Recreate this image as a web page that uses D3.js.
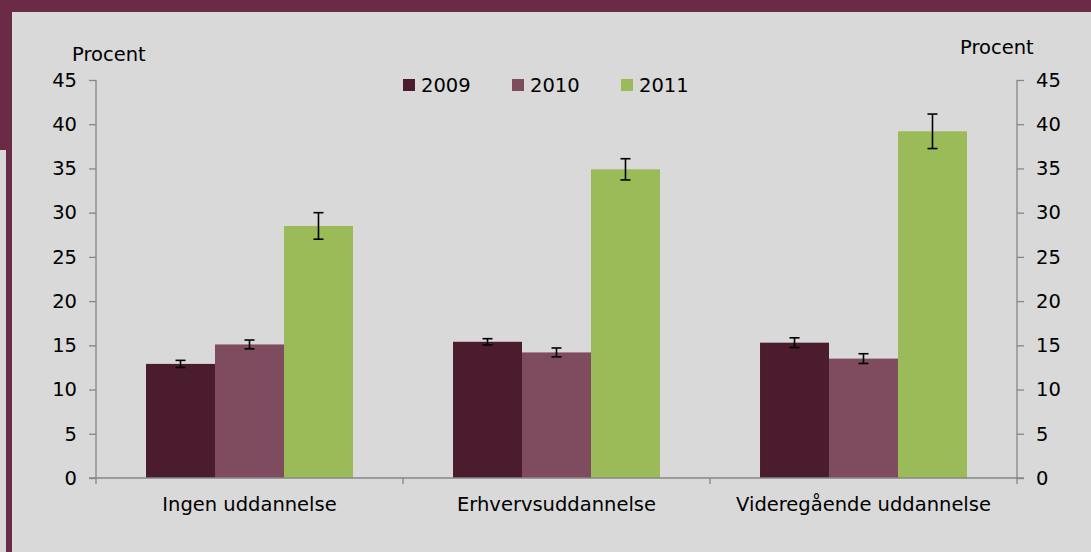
<!DOCTYPE html>
<html>
<head>
<meta charset="utf-8">
<script src="https://cdn.jsdelivr.net/npm/d3@7"></script>
<style>
  body { margin: 0; background: #d9d9d9; }
  svg { display: block; }
  text { font-family: "DejaVu Sans", Verdana, sans-serif; fill: #000; }
</style>
</head>
<body>
<svg width="1091" height="552"></svg>
<script>
var categories = ['Ingen uddannelse', 'Erhvervsuddannelse', 'Videregående uddannelse'];
var years = ['2009', '2010', '2011'];
var values2009 = [12.9, 15.4, 15.3];
var values2010 = [15.1, 14.2, 13.5];
var values2011 = [28.5, 34.9, 39.2];
var err2009 = [0.4, 0.35, 0.55];
var err2010 = [0.5, 0.5, 0.55];
var err2011 = [1.5, 1.2, 1.95];
var yTicks = [0, 5, 10, 15, 20, 25, 30, 35, 40, 45];
var colors = ['#4a1c2e', '#7f4b5f', '#9bbb59'];

var svg = d3.select('svg');
var frame = '#6b2b47';
var axisColor = '#868686';
var fs = 19.5;

// frame
svg.append('rect').attr('x', 0).attr('y', 0).attr('width', 1091).attr('height', 552).attr('fill', '#d9d9d9');
svg.append('rect').attr('x', 0).attr('y', 0).attr('width', 1091).attr('height', 12).attr('fill', frame);
svg.append('rect').attr('x', 6).attr('y', 0).attr('width', 6).attr('height', 552).attr('fill', frame);
svg.append('rect').attr('x', 0).attr('y', 0).attr('width', 6).attr('height', 150).attr('fill', frame);

var plotLeft = 96, plotRight = 1017, plotTop = 80, plotBottom = 478;

var x0 = d3.scaleBand().domain(categories).range([plotLeft, plotRight]).padding(0);
var x1 = d3.scaleBand().domain(years).range([0, x0.bandwidth()]).paddingInner(0).paddingOuter(0.725);
var y = d3.scaleLinear().domain([0, 45]).range([plotBottom, plotTop]);

var rows = categories.map(function(c, i) {
  return {
    cat: c,
    bars: [
      { year: years[0], v: values2009[i], e: err2009[i] },
      { year: years[1], v: values2010[i], e: err2010[i] },
      { year: years[2], v: values2011[i], e: err2011[i] }
    ]
  };
});

// bars
var groups = svg.selectAll('g.grp').data(rows).enter().append('g')
  .attr('class', 'grp')
  .attr('transform', function(d) { return 'translate(' + x0(d.cat) + ',0)'; });

groups.selectAll('rect').data(function(d) { return d.bars; }).enter().append('rect')
  .attr('x', function(d) { return x1(d.year); })
  .attr('y', function(d) { return y(d.v); })
  .attr('width', x1.bandwidth())
  .attr('height', function(d) { return y(0) - y(d.v); })
  .attr('fill', function(d, i) { return colors[i]; });

// error bars
var eb = groups.selectAll('g.err').data(function(d) { return d.bars; }).enter().append('g')
  .attr('class', 'err')
  .attr('stroke', '#000')
  .attr('stroke-width', 1.6);
function cx(d) { return x1(d.year) + x1.bandwidth() / 2; }
eb.append('line')
  .attr('x1', cx).attr('x2', cx)
  .attr('y1', function(d) { return y(d.v + d.e); })
  .attr('y2', function(d) { return y(d.v - d.e); });
eb.append('line')
  .attr('x1', function(d) { return cx(d) - 5; })
  .attr('x2', function(d) { return cx(d) + 5; })
  .attr('y1', function(d) { return y(d.v + d.e); })
  .attr('y2', function(d) { return y(d.v + d.e); });
eb.append('line')
  .attr('x1', function(d) { return cx(d) - 5; })
  .attr('x2', function(d) { return cx(d) + 5; })
  .attr('y1', function(d) { return y(d.v - d.e); })
  .attr('y2', function(d) { return y(d.v - d.e); });

// axes
var yAxisL = d3.axisLeft(y).tickValues(yTicks).tickSize(7).tickPadding(12);
var yAxisR = d3.axisRight(y).tickValues(yTicks).tickSize(7).tickPadding(12);

function styleAxis(g) {
  g.select('.domain').remove();
  g.selectAll('.tick line').attr('stroke', axisColor).attr('stroke-width', 1.3);
  g.selectAll('.tick text').attr('font-size', fs).attr('font-family', '"DejaVu Sans", Verdana, sans-serif').attr('fill', '#000');
}

svg.append('g').attr('transform', 'translate(' + plotLeft + ',0)').call(yAxisL).call(styleAxis);
svg.append('g').attr('transform', 'translate(' + plotRight + ',0)').call(yAxisR).call(styleAxis);

// axis lines
svg.append('line').attr('x1', plotLeft).attr('x2', plotLeft).attr('y1', plotTop).attr('y2', plotBottom + 6)
  .attr('stroke', axisColor).attr('stroke-width', 1.3);
svg.append('line').attr('x1', plotRight).attr('x2', plotRight).attr('y1', plotTop).attr('y2', plotBottom + 6)
  .attr('stroke', axisColor).attr('stroke-width', 1.3);
svg.append('line').attr('x1', plotLeft - 7).attr('x2', plotRight + 7).attr('y1', plotBottom).attr('y2', plotBottom)
  .attr('stroke', axisColor).attr('stroke-width', 1.6);

// category boundary ticks
svg.selectAll('line.ctick').data(categories.slice(1)).enter().append('line')
  .attr('class', 'ctick')
  .attr('x1', function(d) { return x0(d); })
  .attr('x2', function(d) { return x0(d); })
  .attr('y1', plotBottom).attr('y2', plotBottom + 6)
  .attr('stroke', axisColor).attr('stroke-width', 1.3);

// category labels
svg.selectAll('text.cat').data(categories).enter().append('text')
  .attr('class', 'cat')
  .attr('x', function(d) { return x0(d) + x0.bandwidth() / 2; })
  .attr('y', 511)
  .attr('text-anchor', 'middle')
  .attr('font-size', fs)
  .text(function(d) { return d; });

// axis titles
svg.append('text').attr('x', 72).attr('y', 61).attr('font-size', fs).text('Procent');
svg.append('text').attr('x', 960).attr('y', 54).attr('font-size', fs).text('Procent');

// legend
var legend = svg.selectAll('g.leg').data(years).enter().append('g')
  .attr('class', 'leg')
  .attr('transform', function(d, i) { return 'translate(' + (403 + i * 109) + ',79)'; });
legend.append('rect').attr('width', 12).attr('height', 12)
  .attr('fill', function(d, i) { return colors[i]; });
legend.append('text').attr('x', 18).attr('y', 13).attr('font-size', fs)
  .text(function(d) { return d; });
</script>
</body>
</html>
